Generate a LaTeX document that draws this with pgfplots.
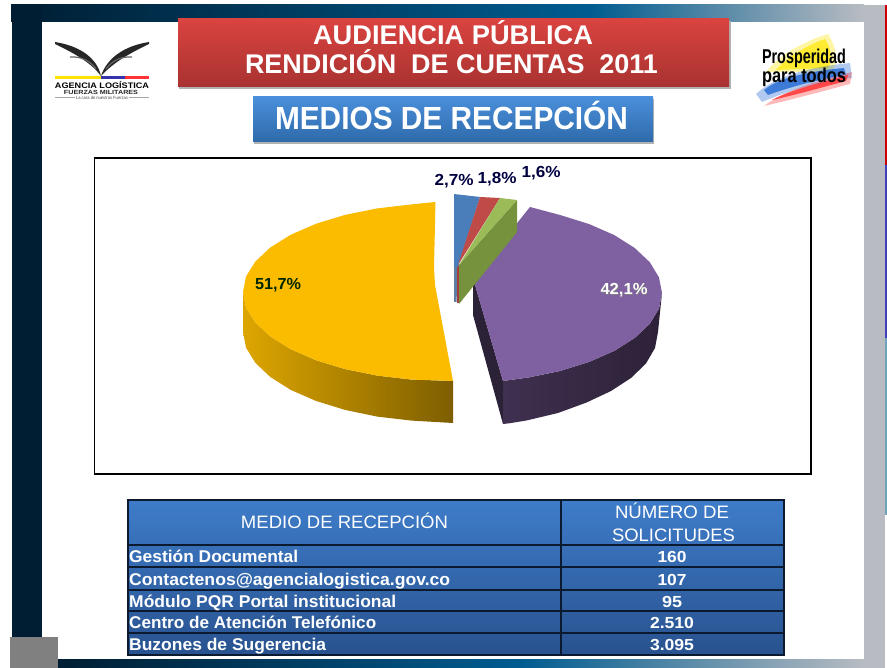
\documentclass[border=0pt]{standalone}
\usepackage{pgfplots}
\pgfplotsset{compat=1.18}
\usepackage{fontspec}
\setmainfont{Liberation Sans}
\definecolor{navy}{HTML}{001E33}
\definecolor{midblue}{HTML}{005C90}
\definecolor{bandgrey}{HTML}{B8BCC2}
\definecolor{pieblue}{HTML}{4A7EBB}
\definecolor{piered}{HTML}{BE4B48}
\definecolor{piegreen}{HTML}{9BBB59}
\definecolor{piegreenside}{HTML}{76923C}
\definecolor{piepurple}{HTML}{7F60A0}
\definecolor{pieyellow}{HTML}{FBBC00}
\definecolor{titletop}{HTML}{DA4340}
\definecolor{titlebot}{HTML}{A83230}
\definecolor{subtop}{HTML}{4A8FDB}
\definecolor{subbot}{HTML}{2E6AAA}
\definecolor{tabtop}{HTML}{3E7CC9}
\definecolor{tabbot}{HTML}{28528F}
\definecolor{tabline}{HTML}{0C1A30}
\newcommand\sz[1]{\fontsize{#1}{#1}\selectfont}
\newcommand\tw[2]{\resizebox{#1pt}{\height}{#2}}
\begin{document}
\begin{tikzpicture}
\begin{axis}[
  scale only axis, width=887pt, height=668pt,
  xmin=0, xmax=887, ymin=0, ymax=668, y dir=reverse,
  hide axis, clip=true, axis line style={draw=none}]
% ---- slide frame
\fill[white] (axis cs:0,0) rectangle (axis cs:887,668);
\fill[left color=navy,right color=midblue] (axis cs:11,5) rectangle (axis cs:590,22);
\fill[left color=midblue,right color=bandgrey] (axis cs:590,5) rectangle (axis cs:864,22);
\fill[bandgrey] (axis cs:864,5) rectangle (axis cs:885,668);
\fill[navy] (axis cs:12,5) rectangle (axis cs:42,640);
\fill[left color=navy,right color=midblue] (axis cs:58,659) rectangle (axis cs:520,668);
\fill[left color=midblue,right color=bandgrey] (axis cs:520,659) rectangle (axis cs:864,668);
\fill[gray] (axis cs:10,637) rectangle (axis cs:58,668);
\fill[red!80!black] (axis cs:884.5,5) rectangle (axis cs:887,165);
\fill[blue!50!gray] (axis cs:884.5,165) rectangle (axis cs:887,338);
\fill[cyan!40!gray] (axis cs:884.5,338) rectangle (axis cs:887,515);
% ---- banners
\fill[gray!60] (axis cs:179,21) rectangle (axis cs:731,89);
\fill[top color=titletop,bottom color=titlebot] (axis cs:178,19) rectangle (axis cs:729,87);
\node[white,font=\bfseries\sz{27},anchor=base] at (axis cs:453,44.5) {\tw{280}{AUDIENCIA PÚBLICA}};
\node[white,font=\bfseries\sz{27},anchor=base] at (axis cs:451.5,73.5) {\tw{413}{RENDICIÓN\ \ DE CUENTAS\ \ 2011}};
\fill[gray!60] (axis cs:254,99) rectangle (axis cs:654,144);
\fill[top color=subtop,bottom color=subbot] (axis cs:253,97) rectangle (axis cs:653,142);
\node[white,font=\bfseries\sz{32},anchor=base] at (axis cs:451.5,130) {\tw{353}{MEDIOS DE RECEPCIÓN}};
% ---- left logo
\fill[black!85] (axis cs:55,42) .. controls (axis cs:80,46) and (axis cs:97,58) .. (axis cs:101,76) .. controls (axis cs:92,64) and (axis cs:78,55) .. (axis cs:55,44) -- cycle;
\fill[black!85] (axis cs:149,42) .. controls (axis cs:124,46) and (axis cs:107,58) .. (axis cs:101,76) .. controls (axis cs:112,64) and (axis cs:126,55) .. (axis cs:149,44) -- cycle;
\draw[black!60,line width=1.2pt] (axis cs:70,57) .. controls (axis cs:82,56) and (axis cs:91,62) .. (axis cs:96,69);
\draw[black!60,line width=1.2pt] (axis cs:132,57) .. controls (axis cs:120,56) and (axis cs:111,62) .. (axis cs:106,69);
\fill[yellow!85!orange] (axis cs:55,76) rectangle (axis cs:101,79);
\fill[blue!60!black!80!white] (axis cs:101,76) rectangle (axis cs:125,79);
\fill[red!80] (axis cs:125,76) rectangle (axis cs:149,79);
\node[black,font=\bfseries\sz{8}] at (axis cs:102,85) {\tw{94}{AGENCIA LOGÍSTICA}};
\node[black!85,font=\bfseries\sz{6}] at (axis cs:101,92) {\tw{74}{FUERZAS MILITARES}};
\node[black!70,font=\sz{4.5}] at (axis cs:102,97.5) {\tw{52}{La cara de nuestras Fuerzas}};
\draw[gray!70,line width=.5pt] (axis cs:55,97.5) -- (axis cs:75,97.5) (axis cs:129,97.5) -- (axis cs:149,97.5);
% ---- right logo
\fill[yellow!90!orange,opacity=.35] (axis cs:766,72) .. controls (axis cs:782,52) and (axis cs:808,40) .. (axis cs:828,34) .. controls (axis cs:838,50) and (axis cs:838,62) .. (axis cs:832,72) -- cycle;
\fill[yellow!90!orange,opacity=.7] (axis cs:776,70) .. controls (axis cs:788,56) and (axis cs:810,44) .. (axis cs:825,39) .. controls (axis cs:832,50) and (axis cs:833,60) .. (axis cs:828,68) -- cycle;
\fill[blue!60!cyan!80!black,opacity=.3] (axis cs:756,94) .. controls (axis cs:775,76) and (axis cs:810,67) .. (axis cs:850,63) -- (axis cs:852,78) .. controls (axis cs:820,82) and (axis cs:790,90) .. (axis cs:762,102) -- cycle;
\fill[blue!60!cyan!80!black,opacity=.65] (axis cs:764,90) .. controls (axis cs:778,78) and (axis cs:810,71) .. (axis cs:844,68) -- (axis cs:846,75) .. controls (axis cs:820,79) and (axis cs:790,87) .. (axis cs:768,95) -- cycle;
\fill[red!90,opacity=.3] (axis cs:764,106) .. controls (axis cs:785,90) and (axis cs:820,80) .. (axis cs:852,72) -- (axis cs:850,84) .. controls (axis cs:820,92) and (axis cs:790,100) .. (axis cs:764,106) -- cycle;
\fill[red!90,opacity=.7] (axis cs:772,100) .. controls (axis cs:790,90) and (axis cs:820,83) .. (axis cs:848,75) -- (axis cs:846,81) .. controls (axis cs:820,88) and (axis cs:795,95) .. (axis cs:772,100) -- cycle;
\node[black,font=\bfseries\sz{20},anchor=base] at (axis cs:804,64) {\tw{84}{Prosperidad}};
\node[black,font=\bfseries\sz{20},anchor=base] at (axis cs:804,83) {\tw{84}{para todos}};
% ---- chart box
\draw[black,line width=1.4pt,fill=white] (axis cs:94.5,158) rectangle (axis cs:811,474);
% ---- yellow slice: side, then top
\addplot[draw=none,left color=pieyellow!88!black,right color=pieyellow!50!black] coordinates {
 (243,292) (246,307.5) (255.3,322.4) (270.3,336.5) (290.7,349.2) (315.9,360.2) (345,369.1) (377.2,375.6) (411.5,379.6) (453,381)
 (453,423) (411.5,420.6) (377.2,416.6) (345,409.9) (315.9,400.9) (290.7,389.9) (270.3,377) (255.3,362.8) (246,347.6) (243,332) (243,292)};
\addplot[draw=none,fill=pieyellow] coordinates {
 (435.5,202) (411.5,204.4) (377.2,208.4) (345,214.9) (315.9,223.8) (290.7,234.8) (270.3,247.5) (255.3,261.6) (246,276.5) (243,292)
 (246,307.5) (255.3,322.4) (270.3,336.5) (290.7,349.2) (315.9,360.2) (345,369.1) (377.2,375.6) (411.5,379.6) (453,381)
 (435,285) (434,268) (435.5,202)};
% ---- purple slice: sides, then top
\addplot[draw=none,fill=piepurple!35!black] coordinates {(473,278) (503,381) (503,424) (473,315) (473,278)};
\addplot[draw=none,left color=piepurple!50!black,right color=piepurple!35!black] coordinates {
 (503,381) (510.8,379.9) (527.8,377.6) (560,371) (589.2,361.9) (614.3,350.9) (634.7,338) (649.8,323.8) (659,308.6) (662,293)
 (658,332) (655,348) (646,363.5) (631,378) (611,391) (586.6,402.5) (558,413) (526.4,420.5) (509.8,423.2) (503,424) (503,381)};
\addplot[draw=none,fill=piepurple] coordinates {
 (530,207) (560,215) (589.2,224.1) (614.3,235.1) (634.7,248) (649.8,262.2) (659,277.4) (662,293) (659,308.6) (649.8,323.8) (634.7,338) (614.3,350.9) (589.2,361.9) (560,371) (527.8,377.6) (510.8,379.9) (503,381) (473,278) (530,207)};
% ---- three small slices
\addplot[draw=none,fill=pieblue!65!gray] coordinates {(454,194) (454,302) (456.5,302) (458,267) (454,194)};
\addplot[draw=none,fill=piered!85!black] coordinates {(457,265) (457,303) (459.5,303) (459.5,265) (457,265)};
\addplot[draw=none,fill=piegreenside] coordinates {(459,265) (517,200) (517,232) (459,304) (459,265)};
\addplot[draw=none,fill=pieblue] coordinates {(454,194) (480,197) (458,267) (454,267) (454,194)};
\addplot[draw=none,fill=piered] coordinates {(480,197) (500,198) (458,265) (480,197)};
\addplot[draw=none,fill=piegreen] coordinates {(500,198) (517,200) (459,265) (500,198)};
% ---- slice labels
\node[black!75!blue,font=\bfseries\sz{16}] at (axis cs:454,181) {\tw{39}{2,7\%}};
\node[black!75!blue,font=\bfseries\sz{16}] at (axis cs:497,179) {\tw{39}{1,8\%}};
\node[black!75!blue,font=\bfseries\sz{16}] at (axis cs:541,173) {\tw{39}{1,6\%}};
\node[black!85!green,font=\bfseries\sz{16}] at (axis cs:278,285) {\tw{46}{51,7\%}};
\node[black!50,font=\bfseries\sz{16}] at (axis cs:624.7,290.7) {\tw{47}{42,1\%}};
\node[white,font=\bfseries\sz{16}] at (axis cs:624,290) {\tw{47}{42,1\%}};
% ---- table
\fill[top color=tabtop,bottom color=tabbot] (axis cs:128,500) rectangle (axis cs:784,655);
\draw[tabline,line width=1.6pt] (axis cs:128,500) rectangle (axis cs:784,655);
\draw[tabline,line width=1.6pt] (axis cs:128,545) -- (axis cs:784,545) (axis cs:128,567) -- (axis cs:784,567) (axis cs:128,590) -- (axis cs:784,590) (axis cs:128,611) -- (axis cs:784,611) (axis cs:128,633) -- (axis cs:784,633) (axis cs:561,500) -- (axis cs:561,655);
\node[white,font=\sz{18},anchor=base] at (axis cs:344.5,528.5) {\tw{207}{MEDIO DE RECEPCIÓN}};
\node[white,font=\sz{18},anchor=base] at (axis cs:672,518.5) {\tw{114}{NÚMERO DE}};
\node[white,font=\sz{18},anchor=base] at (axis cs:673.5,541) {\tw{123}{SOLICITUDES}};
\node[white,font=\bfseries\sz{17},anchor=base west,inner sep=0pt] at (axis cs:129,562) {\tw{169}{Gestión Documental}};
\node[white,font=\bfseries\sz{17},anchor=base west,inner sep=0pt] at (axis cs:129,585) {\tw{321}{Contactenos@agencialogistica.gov.co}};
\node[white,font=\bfseries\sz{17},anchor=base west,inner sep=0pt] at (axis cs:129,607) {\tw{267}{Módulo PQR Portal institucional}};
\node[white,font=\bfseries\sz{17},anchor=base west,inner sep=0pt] at (axis cs:129,628) {\tw{247}{Centro de Atención Telefónico}};
\node[white,font=\bfseries\sz{17},anchor=base west,inner sep=0pt] at (axis cs:129,650) {\tw{197}{Buzones de Sugerencia}};
\node[white,font=\bfseries\sz{16},anchor=base] at (axis cs:672,562) {\tw{29}{160}};
\node[white,font=\bfseries\sz{16},anchor=base] at (axis cs:672,585) {\tw{29}{107}};
\node[white,font=\bfseries\sz{16},anchor=base] at (axis cs:672,607) {\tw{20}{95}};
\node[white,font=\bfseries\sz{16},anchor=base] at (axis cs:672,628) {\tw{44}{2.510}};
\node[white,font=\bfseries\sz{16},anchor=base] at (axis cs:672,650) {\tw{44}{3.095}};
\end{axis}
\end{tikzpicture}
\end{document}
